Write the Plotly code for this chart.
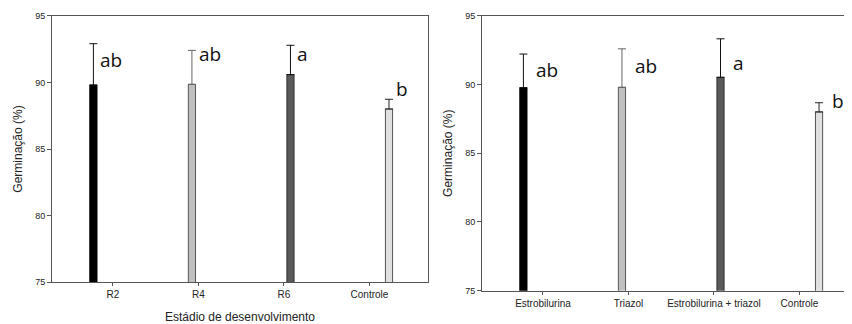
import plotly.graph_objects as go

# ---- data ----
stages = ["R2", "R4", "R6", "Controle"]
stage_means = [89.8, 89.85, 90.58, 88.0]
stage_err = [3.1, 2.55, 2.2, 0.73]
stage_letters = ["ab", "ab", "a", "b"]
stage_label_y = [91.7, 92.1, 92.15, 89.5]

treatments = ["Estrobilurina", "Triazol", "Estrobilurina + triazol", "Controle"]
treat_means = [89.76, 89.79, 90.52, 88.0]
treat_err = [2.45, 2.8, 2.8, 0.67]
treat_letters = ["ab", "ab", "a", "b"]
treat_label_y = [91.03, 91.33, 91.53, 88.83]

y_ticks = [75, 80, 85, 90, 95]

# ---- styles ----
fills = ["#000000", "#c0c0c0", "#5a5a5a", "#e0e0e0"]
outlines = ["#000000", "#555555", "#333333", "#555555"]
err_colors = ["#111111", "#666666", "#111111", "#222222"]

# page body has an 8px default margin; size the figure to the visible area
O = 8
W, H = 852 - O, 324 - O
def px(x):  # screen x -> paper fraction
    return (x - O) / W
def py(y):  # screen y -> paper fraction (from bottom)
    return 1 - (y - O) / H

fig = go.Figure()

def add_panel(cats, means, errs, xa, ya):
    for i, (c, m, e) in enumerate(zip(cats, means, errs)):
        fig.add_trace(go.Bar(
            x=[c], y=[m], xaxis=xa, yaxis=ya, offsetgroup=str(i),
            marker=dict(color=fills[i], line=dict(color=outlines[i], width=1)),
            error_y=dict(type="data", symmetric=False, array=[e], arrayminus=[0],
                         color=err_colors[i], thickness=1, width=4),
            showlegend=False, hoverinfo="x+y",
        ))

add_panel(stages, stage_means, stage_err, "x", "y")
add_panel(treatments, treat_means, treat_err, "x2", "y2")

slot = 13  # px between grouped bars
def add_letters(cats, letters, ys, xref, yref, extra):
    for i, (c, t, yv) in enumerate(zip(cats, letters, ys)):
        fig.add_annotation(
            x=c, y=yv, xref=xref, yref=yref, text=t, showarrow=False,
            xanchor="left", yanchor="middle",
            xshift=(i - 1.5) * slot + extra,
            font=dict(family="Open Sans", size=19, color="#111111"),
        )

add_letters(stages, stage_letters, stage_label_y, "x", "y", 5)
add_letters(treatments, treat_letters, treat_label_y, "x2", "y2", 11)

axis_font = dict(family="Liberation Sans, Arial", size=10, color="#222222")
title_font = dict(family="Liberation Sans, Arial", size=12, color="#222222")
line_col = "#555555"

common_x = dict(type="category", showline=True, linecolor=line_col, linewidth=1,
                ticks="outside", ticklen=3, tickcolor=line_col, showgrid=False,
                tickfont=axis_font, zeroline=False, automargin=False)
common_y = dict(range=[75, 95], tickvals=y_ticks, showline=True, linecolor=line_col,
                linewidth=1, ticks="outside", ticklen=4, tickcolor=line_col,
                showgrid=False, tickfont=dict(family="Liberation Sans, Arial", size=9, color="#222222"),
                zeroline=False, automargin=False,
                title=dict(text="Germinação (%)", font=title_font, standoff=9))

fig.update_layout(
    width=W, height=H, margin=dict(l=0, r=0, t=0, b=0),
    paper_bgcolor="white", plot_bgcolor="white",
    barmode="group", bargap=0.39, bargroupgap=0.45,
    xaxis=dict(common_x, domain=[px(52), px(428)], range=[-0.713, 3.685], anchor="y",
               mirror=True,
               title=dict(text="Estádio de desenvolvimento", font=title_font, standoff=14)),
    yaxis=dict(common_y, domain=[py(282.3), py(15.7)], anchor="x", mirror=True),
    xaxis2=dict(common_x, domain=[px(482), 1.0], range=[-0.713, 3.614], anchor="y2",
                mirror=True),
    yaxis2=dict(common_y, domain=[py(290.7), py(15.7)], anchor="x2", mirror=False),
)

fig.write_html("out.html")
